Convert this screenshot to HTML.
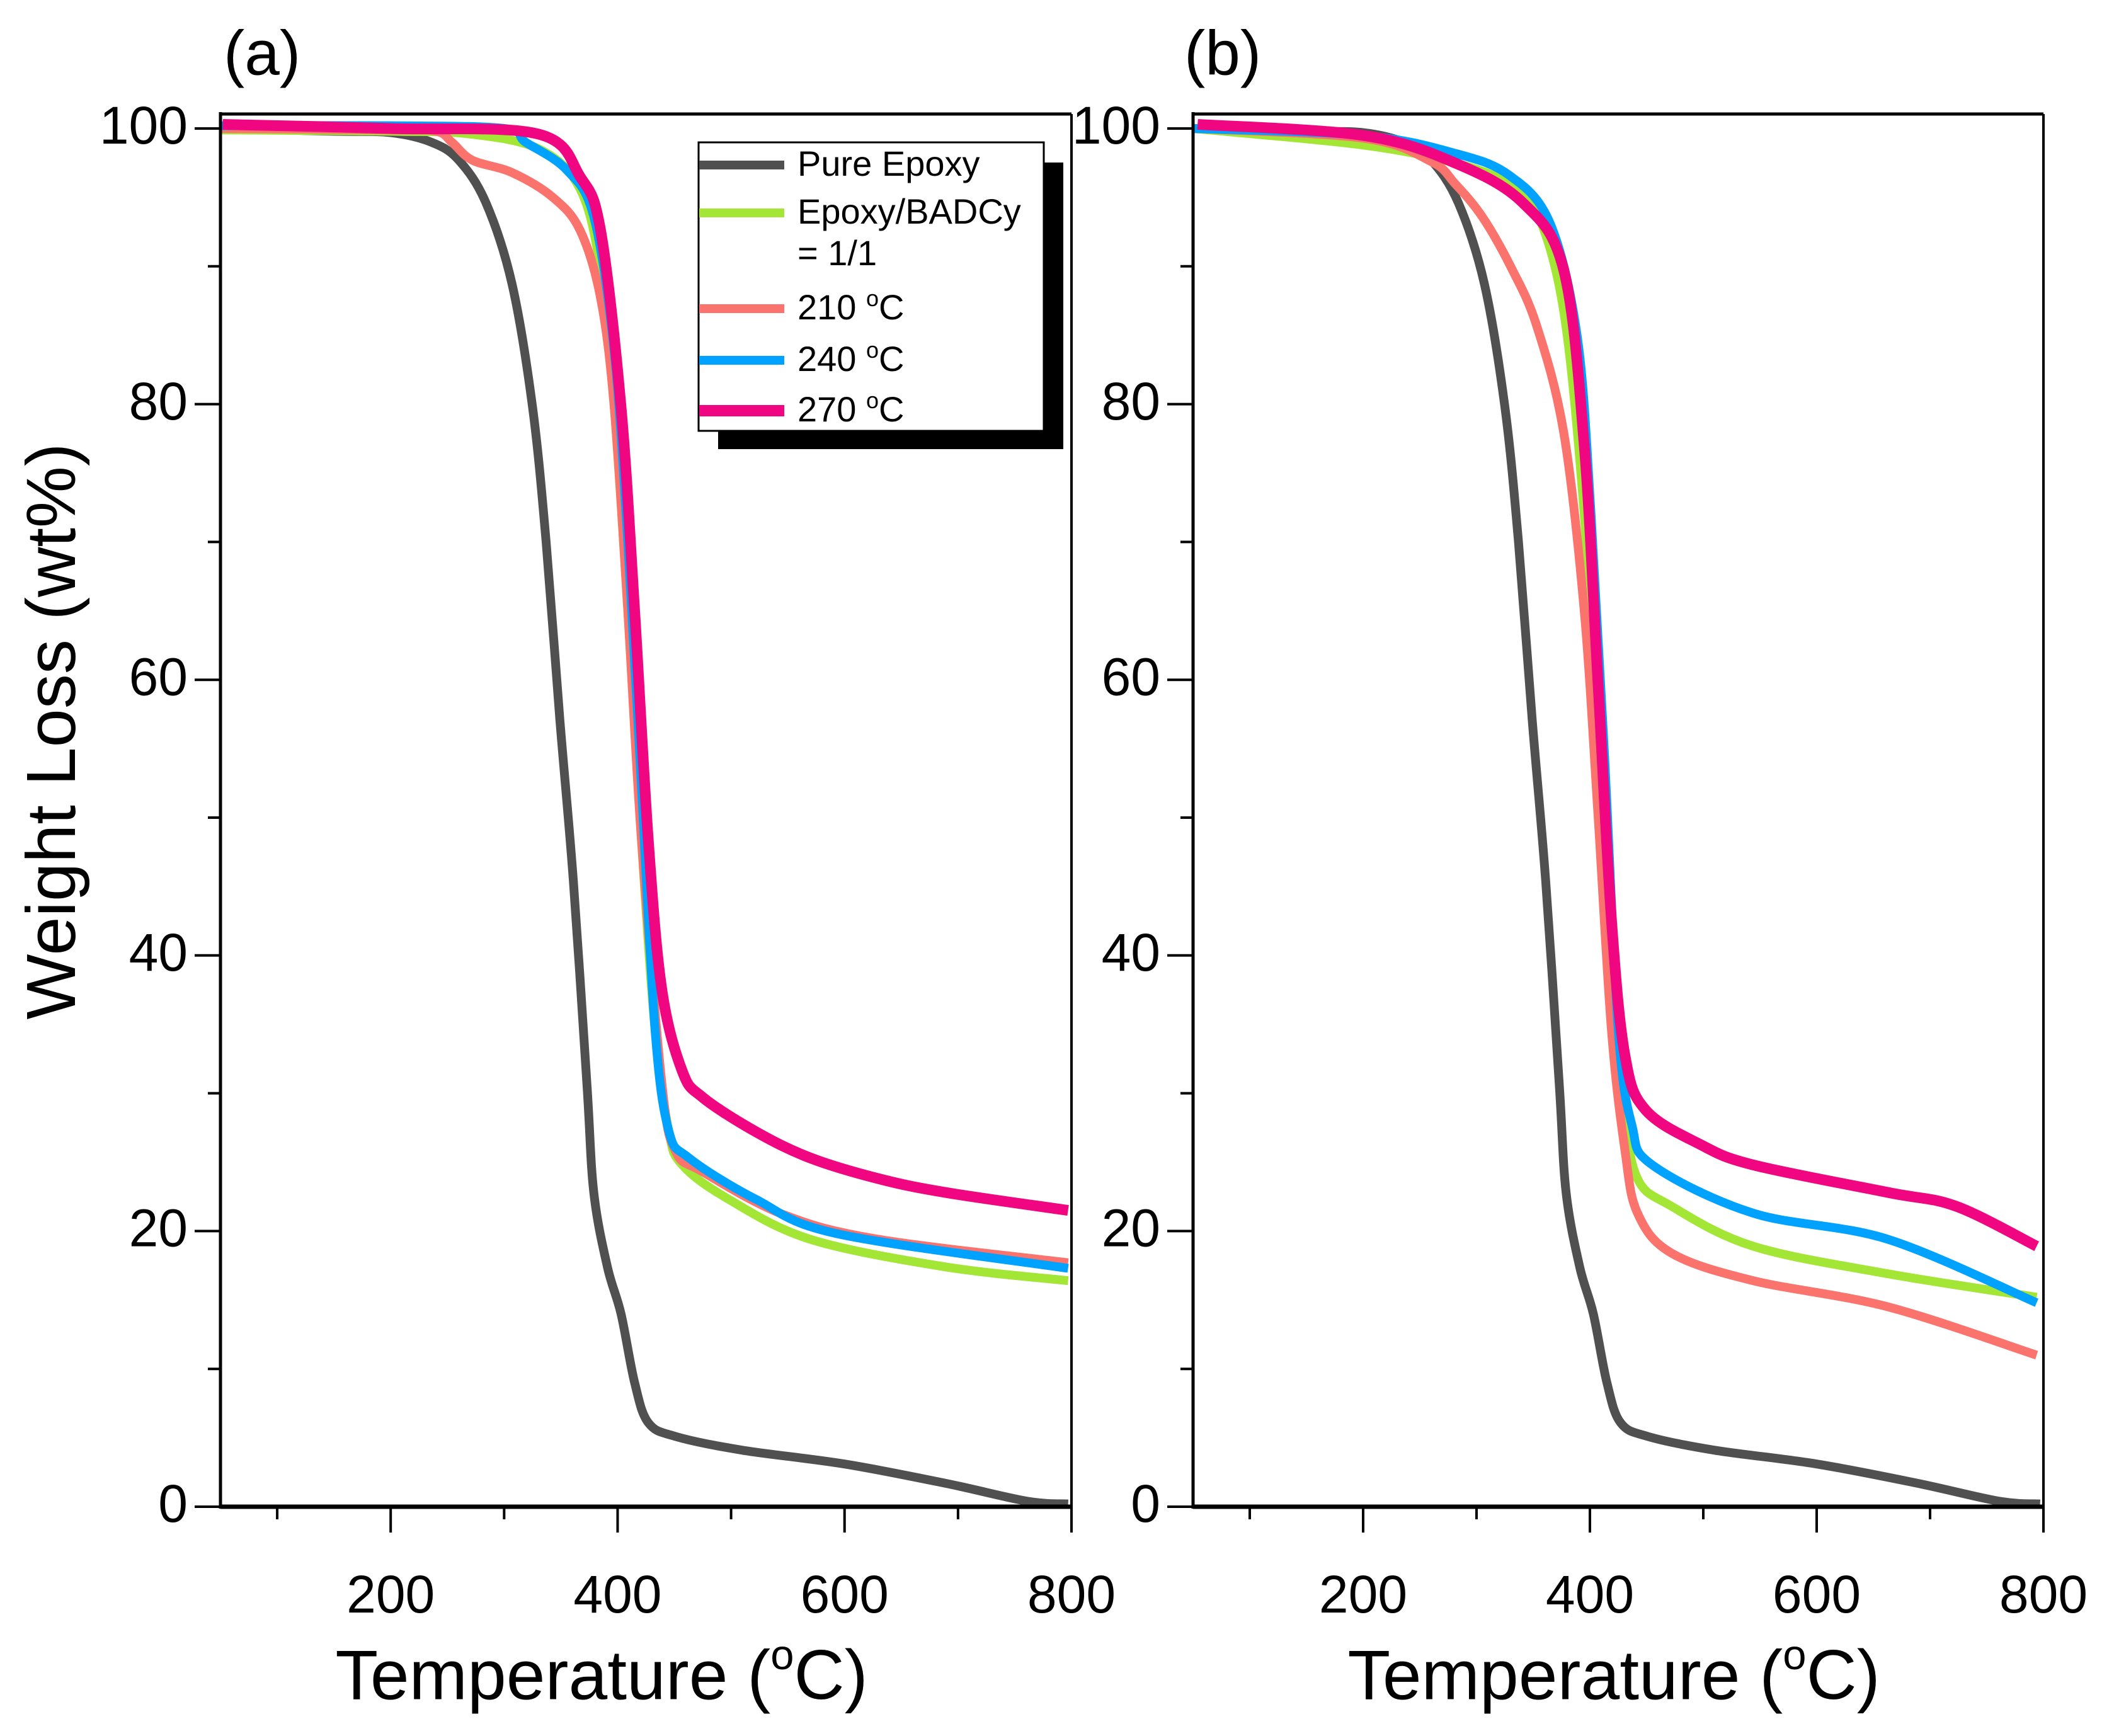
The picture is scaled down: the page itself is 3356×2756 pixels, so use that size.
<!DOCTYPE html>
<html><head><meta charset="utf-8"><style>
html,body{margin:0;padding:0;background:#fff}
svg{display:block;font-family:"Liberation Sans",sans-serif}
</style></head><body>
<svg id="chart" width="3356" height="2756" viewBox="0 0 3356 2756">
<g id="layer"></g>
</svg>
<script>
const seriesNames = ["Pure Epoxy","Epoxy/BADCy = 1/1","210 °C","240 °C","270 °C"];
const seriesColors = ["#505050","#a3e636","#fa736c","#00a2ff","#ef0680"];
const xTicks = [200,400,600,800];
const yTicks = [0,20,40,60,80,100];
// Panel (a)
const aPureT = [50,150,200,236,260,284,307,325,337,349,361,373,379,391,403,415,427,451,510,600,689,761,797];
const aPureW = [100,99.8,99.7,99,97.7,94.6,88.7,79.8,70,57.2,45.4,30.6,22.8,17.4,14,9,6.1,5.1,4.1,3.1,1.7,0.4,0.2];
const aGreenT = [50,200,270,331,367,385,397,409,421,433,445,457,498,570,689,797];
const aGreenW = [99.9,99.8,99.6,98.5,95.6,89.7,79.8,65,48.4,34.6,27.3,24.8,22.3,19.4,17.4,16.4];
const aSalmonT = [50,200,240,254,272,307,343,367,385,397,409,421,439,451,475,546,630,797];
const aSalmonW = [100,99.9,99.8,99,97.7,96.8,95,92.6,87.7,79.8,65,48.4,30.7,25.8,24.3,21.2,19.4,17.7];
const aBlueT = [50,200,300,319,355,379,397,409,421,433,445,463,522,594,797];
const aBlueW = [100.2,100.2,100,99,97,93.6,83.8,70,52.3,34.6,27.3,25.3,22.3,19.8,17.3];
const aPinkT = [52,200,330,367,385,403,415,427,439,457,475,522,570,630,689,797];
const aPinkW = [100.3,100,99.6,96.5,92.6,79.8,65,48.4,37.5,31.6,29.7,27.2,25.3,23.8,22.8,21.5];
// Panel (b)
const bPureT = [50,150,200,236,260,284,307,325,337,349,361,373,379,391,403,415,427,451,510,600,689,761,797];
const bPureW = [100,99.8,99.7,99,97.7,94.6,88.7,79.8,70,57.2,45.4,30.6,22.8,17.4,14,9,6.1,5.1,4.1,3.1,1.7,0.4,0.2];
const bGreenT = [50,200,281,329,353,377,395,407,419,431,442,472,544,663,794];
const bGreenW = [100,98.8,97.5,96,94,86.7,72,55.3,40.6,28.8,23.8,21.8,18.9,16.9,15.2];
const bSalmonT = [50,200,260,281,305,330,353,377,395,407,419,431,442,472,544,663,794];
const bSalmonW = [100,99.3,97.6,96,93.6,90,85.7,77.9,65,50.4,34.6,25.8,21.3,18.4,16.4,14.5,11];
const bBlueT = [50,200,281,329,365,389,401,413,425,437,455,544,663,794];
const bBlueW = [100,99.5,98.2,96.6,93.1,84.8,72,54.3,34.6,27.7,24.8,21.3,19.4,14.8];
const bPinkT = [54,200,281,341,377,395,407,419,431,449,497,544,663,723,794];
const bPinkW = [100.3,99.5,97.5,94.6,89.7,77,60,42.6,32.7,28.8,26.3,24.8,22.8,21.8,18.9];

const NS="http://www.w3.org/2000/svg";
const layer=document.getElementById('layer');
function mk(tag,attrs,parent){const e=document.createElementNS(NS,tag);for(const k in attrs)e.setAttribute(k,attrs[k]);(parent||layer).appendChild(e);return e;}
const Y0=2392,Y100=204;
function yScale(v){return Y0+(Y100-Y0)*v/100;}
function makeX(left,right){return t=>left+(t-50)*(right-left)/750;}
function pathFrom(pts){
  let d="M"+pts[0][0]+","+pts[0][1];
  for(let i=0;i<pts.length-1;i++){
    const p0=pts[Math.max(0,i-1)],p1=pts[i],p2=pts[i+1],p3=pts[Math.min(pts.length-1,i+2)];
    const c1=[p1[0]+(p2[0]-p0[0])/6,p1[1]+(p2[1]-p0[1])/6];
    const c2=[p2[0]-(p3[0]-p1[0])/6,p2[1]-(p3[1]-p1[1])/6];
    d+=" C"+c1[0]+","+c1[1]+" "+c2[0]+","+c2[1]+" "+p2[0]+","+p2[1];
  }
  return d;
}
function panel(key,left,right,series,label,labelX,titleX){
  const g=mk('g',{});
  
  
  const xs=makeX(left,right);
  const widths=[14,14,14,14,17];
  series.forEach((s,i)=>{
    const pts=s[0].map((t,j)=>[xs(t),yScale(s[1][j])]);
    const p=mk('path',{d:pathFrom(pts),fill:'none',stroke:seriesColors[i],'stroke-width':widths[i],'stroke-linejoin':'round'},g);
    
    
  });
  const fr=mk('g',{},g);
  
  
  mk('line',{x1:left,y1:181,x2:right,y2:181,stroke:'#000','stroke-width':5},fr);
  mk('line',{x1:right,y1:181,x2:right,y2:Y0,stroke:'#000','stroke-width':4},fr);
  mk('line',{x1:left,y1:Y0,x2:right+2,y2:Y0,stroke:'#000','stroke-width':7},fr);
  mk('line',{x1:left,y1:178,x2:left,y2:Y0+3,stroke:'#000','stroke-width':5},fr);
  const xa=mk('g',{},g);
  
  
  for(let t=100;t<=800;t+=100){
    const major=xTicks.includes(t);
    mk('line',{x1:xs(t),y1:Y0,x2:xs(t),y2:Y0+(major?41:20),stroke:'#000','stroke-width':4},xa);
  }
  xTicks.forEach(t=>{
    const tx=mk('text',{x:xs(t),y:2538,'font-size':84,'text-anchor':'middle','dominant-baseline':'middle'},xa);
    tx.textContent=t;
    
    
  });
  const xt=mk('text',{x:titleX,y:2668,'font-size':111,'text-anchor':'middle','dominant-baseline':'middle'},xa);
  xt.innerHTML='Temperature (<tspan font-size="67" dy="-36">o</tspan><tspan dy="36">C)</tspan>';
  
  
  const ya=mk('g',{},g);
  
  
  for(let v=0;v<=100;v+=10){
    const major=v%20===0;
    mk('line',{x1:left,y1:yScale(v),x2:left-(major?41:20),y2:yScale(v),stroke:'#000','stroke-width':4},ya);
  }
  yTicks.forEach(v=>{
    const tx=mk('text',{x:left-52,y:yScale(v)+2,'font-size':84,'text-anchor':'end','dominant-baseline':'middle'},ya);
    tx.textContent=v;
    
    
  });
  const pl=mk('text',{x:labelX,y:92,'font-size':100,'dominant-baseline':'middle'},g);
  pl.textContent=label;
  
  
}
panel('a',350,1701,[[aPureT,aPureW],[aGreenT,aGreenW],[aSalmonT,aSalmonW],[aBlueT,aBlueW],[aPinkT,aPinkW]],'(a)',355,955);
panel('b',1894,3244,[[bPureT,bPureW],[bGreenT,bGreenW],[bSalmonT,bSalmonW],[bBlueT,bBlueW],[bPinkT,bPinkW]],'(b)',1880,2562);

const yt=mk('text',{x:90,y:1161,'font-size':110,'text-anchor':'middle','dominant-baseline':'middle',transform:'rotate(-90 90 1161)'});
yt.textContent='Weight Loss (wt%)';



const lg=mk('g',{});


mk('rect',{x:1140,y:258,width:548,height:455,fill:'#000'},lg);
mk('rect',{x:1109,y:226,width:548,height:458,fill:'#fff',stroke:'#000','stroke-width':3},lg);
const entries=[[0,'Pure Epoxy',262,262],[1,'Epoxy/BADCy',338,338],[2,'210 °C',490,490],[3,'240 °C',572,572],[4,'270 °C',652,652]];
entries.forEach(e=>{
  const ge=mk('g',{},lg);
  
  
  mk('line',{x1:1110,y1:e[2],x2:1245,y2:e[2],stroke:seriesColors[e[0]],'stroke-width':e[0]===4?18:14},ge);
  const t=mk('text',{x:1266,y:e[3]+2,'font-size':56,'dominant-baseline':'middle'},ge);
  if(e[0]>=2){
    const n=e[1].split(' ')[0];
    t.innerHTML=n+' <tspan font-size="36" dy="-16">o</tspan><tspan dy="16">C</tspan>';
  } else t.textContent=e[1];
});
const t2=mk('text',{x:1266,y:406,'font-size':56,'dominant-baseline':'middle'},lg);
t2.textContent='= 1/1';
</script>
</body></html>
